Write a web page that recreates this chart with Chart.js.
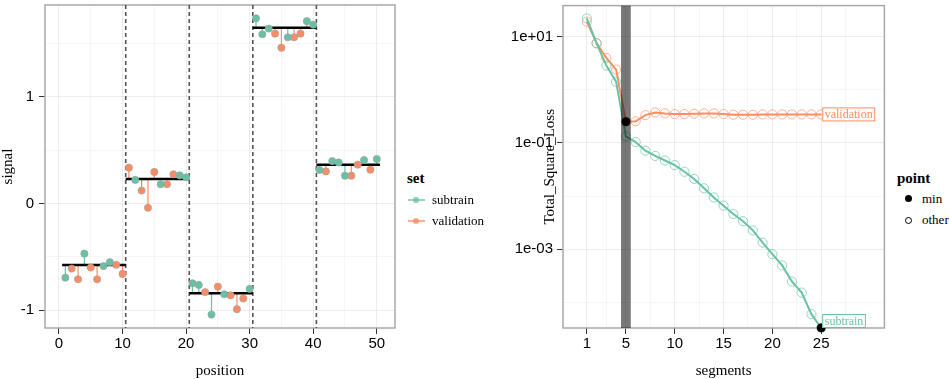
<!DOCTYPE html>
<html>
<head>
<meta charset="utf-8">
<script src="https://cdn.jsdelivr.net/npm/chart.js"></script>
<style>
  body { margin: 0; background: #fff; }
  #page { position: relative; width: 949px; height: 379px; overflow: hidden; font-family: "Liberation Serif", "Times New Roman", serif; color: #000; }
  canvas { position: absolute; top: 0; }
  #signalChart { left: 0; }
  #lossChart { left: 480px; }
  .lg { position: absolute; font-size: 13px; line-height: 14px; white-space: nowrap; }
  .lg-title { font-weight: bold; font-size: 15px; }
  .key-line { position: absolute; width: 17px; height: 2px; }
  .key-dot { position: absolute; width: 6px; height: 6px; border-radius: 50%; }
</style>
</head>
<body>
<div id="page">
  <canvas id="signalChart" width="400" height="379"></canvas>
  <canvas id="lossChart" width="410" height="379"></canvas>

  <div class="lg lg-title" style="left:407px; top:171px;">set</div>
  <div class="key-line" style="left:408px; top:199px; background:rgba(102,194,165,0.7);"></div>
  <div class="key-dot" style="left:413px; top:197px; background:rgba(102,194,165,0.8);"></div>
  <div class="lg" style="left:432px; top:193px;">subtrain</div>
  <div class="key-line" style="left:408px; top:220px; background:rgba(252,141,98,0.7);"></div>
  <div class="key-dot" style="left:413px; top:218px; background:rgba(252,141,98,0.8);"></div>
  <div class="lg" style="left:432px; top:214px;">validation</div>

  <div class="lg lg-title" style="left:897px; top:171px;">point</div>
  <div class="key-dot" style="left:905px; top:195px; width:7px; height:7px; background:#000;"></div>
  <div class="lg" style="left:922px; top:192px;">min</div>
  <div class="key-dot" style="left:905px; top:217px; width:5px; height:5px; border:1px solid #000;"></div>
  <div class="lg" style="left:922px; top:213px;">other</div>
</div>

<script>
// ---- left panel: signal by position ----
const position = [1, 2, 3, 4, 5, 6, 7, 8, 9, 10,
  11, 12, 13, 14, 15, 16, 17, 18, 19, 20,
  21, 22, 23, 24, 25, 26, 27, 28, 29, 30,
  31, 32, 33, 34, 35, 36, 37, 38, 39, 40,
  41, 42, 43, 44, 45, 46, 47, 48, 49, 50];
const signal = [-0.695, -0.61, -0.71, -0.47, -0.60, -0.71, -0.586, -0.55, -0.574, -0.66,
  0.335, 0.22, 0.121, -0.04, 0.295, 0.18, 0.18, 0.273, 0.263, 0.245,
  -0.747, -0.763, -0.83, -1.04, -0.778, -0.85, -0.86, -0.99, -0.89, -0.80,
  1.733, 1.584, 1.637, 1.59, 1.458, 1.556, 1.556, 1.59, 1.707, 1.674,
  0.313, 0.30, 0.397, 0.384, 0.26, 0.26, 0.363, 0.406, 0.316, 0.416];
const setName = ['subtrain', 'validation', 'validation', 'subtrain', 'validation', 'validation', 'subtrain', 'subtrain', 'validation', 'validation',
  'validation', 'subtrain', 'validation', 'validation', 'validation', 'subtrain', 'validation', 'validation', 'subtrain', 'subtrain',
  'subtrain', 'subtrain', 'validation', 'subtrain', 'validation', 'subtrain', 'validation', 'validation', 'validation', 'subtrain',
  'subtrain', 'subtrain', 'subtrain', 'validation', 'validation', 'subtrain', 'validation', 'validation', 'subtrain', 'subtrain',
  'subtrain', 'validation', 'subtrain', 'subtrain', 'subtrain', 'validation', 'validation', 'subtrain', 'validation', 'subtrain'];
const segStart = [0.5, 10.5, 20.5, 30.5, 40.5];
const segEnd = [10.5, 20.5, 30.5, 40.5, 50.5];
const segMean = [-0.577, 0.23, -0.84, 1.646, 0.363];
const changes = [10.5, 20.5, 30.5, 40.5];
const posTicks = [0, 10, 20, 30, 40, 50];
const posMinor = [5, 15, 25, 35, 45];
const signalTicks = [-1, 0, 1];
const signalMinor = [-0.5, 0.5, 1.5];

// ---- right panel: loss by number of segments ----
const segments = [1, 2, 3, 4, 5, 6, 7, 8, 9, 10, 11, 12, 13, 14, 15, 16, 17, 18, 19, 20, 21, 22, 23, 24, 25];
const subtrainLoss = [22.1, 7.5, 2.86, 1.42, 0.133, 0.104, 0.0716, 0.057, 0.0467, 0.0383,
  0.0287, 0.021, 0.014, 0.00942, 0.0066, 0.0046, 0.00337, 0.00226, 0.00133, 0.000807,
  0.000495, 0.000246, 0.000152, 0.0000598, 0.0000330];
const validationLoss = [19.2, 7.6, 3.98, 2.41, 0.252, 0.256, 0.335, 0.376, 0.36, 0.35,
  0.35, 0.355, 0.36, 0.36, 0.35, 0.34, 0.34, 0.34, 0.345, 0.345,
  0.345, 0.345, 0.345, 0.345, 0.345];
const selectedSegments = 5;
const segTicks = [1, 5, 10, 15, 20, 25];
const segMinor = [3, 7.5, 12.5, 17.5, 22.5, 27.5];
const lossTicks = [10, 0.1, 0.001];
const lossTickLabels = ['1e+01', '1e-01', '1e-03'];
const lossMinor = [1, 0.01, 0.0001];

const colors = { subtrain: '#66C2A5', validation: '#FC8D62' };
const tickFont = { family: '"Liberation Sans", Arial, sans-serif', size: 15 };
const titleFont = { family: '"Liberation Serif", "Times New Roman", serif', size: 15, lineHeight: 1 };

function gridOpts(major) {
  return {
    color: c => major.includes(c.tick.value) ? 'rgba(0,0,0,0.07)' : 'rgba(0,0,0,0.035)',
    tickColor: c => major.includes(c.tick.value) ? '#333' : 'rgba(0,0,0,0)',
    tickLength: 6,
    lineWidth: 1
  };
}

// pin axis sizes so the panels land where the reference has them
const fixY = w => s => { s.width = w; s.paddingTop = 0; s.paddingBottom = 0; };
const fixX = h => s => { s.height = h; s.paddingLeft = 0; s.paddingRight = 0; };

const panelBox = {
  id: 'panelBox',
  beforeDatasetsDraw(chart) {
    const { ctx, chartArea: a } = chart;
    ctx.save();
    ctx.strokeStyle = '#a9a9a9';
    ctx.lineWidth = 1.5;
    ctx.strokeRect(a.left, a.top, a.right - a.left, a.bottom - a.top);
    ctx.restore();
  }
};

// stems from every point to its segment mean, plus dashed change-points
const stemsPlugin = {
  id: 'stems',
  beforeDatasetsDraw(chart) {
    const { ctx, chartArea: a, scales: { x, y } } = chart;
    ctx.save();
    ctx.beginPath();
    ctx.rect(a.left, a.top, a.right - a.left, a.bottom - a.top);
    ctx.clip();
    ctx.lineWidth = 1.2;
    position.forEach((p, i) => {
      const k = segStart.findIndex((s, j) => p > s && p < segEnd[j]);
      const px = x.getPixelForValue(p);
      ctx.strokeStyle = colors[setName[i]];
      ctx.beginPath();
      ctx.moveTo(px, y.getPixelForValue(segMean[k]));
      ctx.lineTo(px, y.getPixelForValue(signal[i]));
      ctx.stroke();
    });
    ctx.setLineDash([4, 3]);
    ctx.strokeStyle = '#555';
    ctx.lineWidth = 1.6;
    changes.forEach(c => {
      const px = x.getPixelForValue(c);
      ctx.beginPath();
      ctx.moveTo(px, a.top);
      ctx.lineTo(px, a.bottom);
      ctx.stroke();
    });
    ctx.restore();
  }
};

const pointsOf = name => position
  .map((p, i) => ({ x: p, y: signal[i], s: setName[i] }))
  .filter(d => d.s === name);

const signalDatasets = [
  {
    label: 'subtrain', data: pointsOf('subtrain'), order: 0,
    backgroundColor: colors.subtrain, borderColor: 'rgba(160,160,160,0.7)', borderWidth: 1, pointRadius: 3.6
  },
  {
    label: 'validation', data: pointsOf('validation'), order: 0,
    backgroundColor: colors.validation, borderColor: 'rgba(160,160,160,0.7)', borderWidth: 1, pointRadius: 3.6
  }
];
segMean.forEach((m, k) => {
  signalDatasets.push({
    label: 'segment ' + (k + 1),
    data: [{ x: segStart[k], y: m }, { x: segEnd[k], y: m }],
    showLine: true, borderColor: '#000', borderWidth: 2.5, pointRadius: 0, order: 1
  });
});

new Chart(document.getElementById('signalChart'), {
  type: 'scatter',
  data: { datasets: signalDatasets },
  options: {
    responsive: false,
    animation: false,
    layout: { padding: { top: 2, right: 4, bottom: 0, left: 0 } },
    plugins: { legend: { display: false }, tooltip: { enabled: false } },
    scales: {
      x: {
        type: 'linear', min: -2.2, max: 52.87,
        afterBuildTicks: s => { s.ticks = [...posTicks, ...posMinor].sort((a, b) => a - b).map(v => ({ value: v })); },
        afterFit: fixX(51),
        ticks: { autoSkip: false, maxRotation: 0, padding: 1, color: '#000', font: tickFont,
          callback: v => posTicks.includes(v) ? String(v) : '' },
        grid: gridOpts(posTicks),
        border: { display: false },
        title: { display: true, text: 'position', color: '#000', font: titleFont, padding: 0 }
      },
      y: {
        type: 'linear', min: -1.166, max: 1.858,
        afterBuildTicks: s => { s.ticks = [...signalTicks, ...signalMinor].sort((a, b) => a - b).map(v => ({ value: v })); },
        afterFit: fixY(45),
        ticks: { autoSkip: false, padding: 5, color: '#000', font: tickFont,
          callback: v => signalTicks.includes(v) ? String(v) : '' },
        grid: gridOpts(signalTicks),
        border: { display: false },
        title: { display: true, text: 'signal', color: '#000', font: titleFont, padding: { top: 1, bottom: 0 } }
      }
    }
  },
  plugins: [panelBox, stemsPlugin]
});

// ---- loss chart ----
const iMinSub = subtrainLoss.indexOf(Math.min(...subtrainLoss));
const iMinVal = validationLoss.indexOf(Math.min(...validationLoss));

const bandPlugin = {
  id: 'band',
  beforeDatasetDraw(chart, args) {
    if (args.index !== 0) return;
    const { ctx, chartArea: a, scales: { x } } = chart;
    const x0 = x.getPixelForValue(selectedSegments - 0.5);
    const x1 = x.getPixelForValue(selectedSegments + 0.5);
    ctx.save();
    ctx.fillStyle = 'rgba(0,0,0,0.53)';
    ctx.fillRect(x0, a.top, x1 - x0, a.bottom - a.top);
    ctx.restore();
  }
};

const endLabels = {
  id: 'endLabels',
  afterDatasetsDraw(chart) {
    const { ctx, chartArea: a, scales: { x, y } } = chart;
    const last = segments.length - 1;
    const items = [['validation', validationLoss[last]], ['subtrain', subtrainLoss[last]]];
    ctx.save();
    ctx.font = '12px "Liberation Serif", "Times New Roman", serif';
    ctx.textBaseline = 'middle';
    items.forEach(([name, v]) => {
      const w = ctx.measureText(name).width + 5;
      const h = 14;
      const left = x.getPixelForValue(segments[last]) + 1;
      let cy = y.getPixelForValue(v);
      cy = Math.min(Math.max(cy, a.top + h / 2), a.bottom - h / 2);
      ctx.fillStyle = '#fff';
      ctx.fillRect(left, cy - h / 2, w, h);
      ctx.strokeStyle = colors[name];
      ctx.lineWidth = 1;
      ctx.strokeRect(left + 0.5, cy - h / 2 + 0.5, w - 1, h - 1);
      ctx.fillStyle = colors[name];
      ctx.fillText(name, left + 2.5, cy + 0.5);
    });
    ctx.restore();
  }
};

const lineSet = (name, values) => ({
  label: name,
  data: segments.map((s, i) => ({ x: s, y: values[i] })),
  showLine: true,
  borderColor: colors[name],
  borderWidth: 2,
  pointRadius: 4.6,
  pointBorderWidth: 1,
  pointBackgroundColor: 'rgba(0,0,0,0)',
  pointBorderColor: colors[name] + 'AA',
  tension: 0
});

new Chart(document.getElementById('lossChart'), {
  type: 'scatter',
  data: {
    datasets: [
      {
        label: 'min',
        data: [{ x: segments[iMinVal], y: validationLoss[iMinVal] }, { x: segments[iMinSub], y: subtrainLoss[iMinSub] }],
        backgroundColor: '#000', borderColor: '#000', pointRadius: 4
      },
      lineSet('subtrain', subtrainLoss),
      lineSet('validation', validationLoss)
    ]
  },
  options: {
    responsive: false,
    animation: false,
    clip: false,
    layout: { padding: { top: 2, right: 3, bottom: 0, left: 0 } },
    plugins: { legend: { display: false }, tooltip: { enabled: false } },
    scales: {
      x: {
        type: 'linear', min: -1.44, max: 31.47,
        afterBuildTicks: s => { s.ticks = [...segTicks, ...segMinor].sort((a, b) => a - b).map(v => ({ value: v })); },
        afterFit: fixX(51),
        ticks: { autoSkip: false, maxRotation: 0, padding: 1, color: '#000', font: tickFont,
          callback: v => segTicks.includes(v) ? String(v) : '' },
        grid: gridOpts(segTicks),
        border: { display: false },
        title: { display: true, text: 'segments', color: '#000', font: titleFont, padding: 0 }
      },
      y: {
        type: 'logarithmic', min: 3.28e-5, max: 38.6,
        afterBuildTicks: s => { s.ticks = [...lossTicks, ...lossMinor].sort((a, b) => a - b).map(v => ({ value: v })); },
        afterFit: fixY(83),
        ticks: { autoSkip: false, padding: 4, color: '#000', font: tickFont,
          callback: v => { const i = lossTicks.indexOf(v); return i >= 0 ? lossTickLabels[i] : ''; } },
        grid: gridOpts(lossTicks),
        border: { display: false },
        title: { display: true, text: 'Total_Square_Loss', color: '#000', font: titleFont, padding: { top: 63, bottom: 0 } }
      }
    }
  },
  plugins: [panelBox, bandPlugin, endLabels]
});
</script>
</body>
</html>
